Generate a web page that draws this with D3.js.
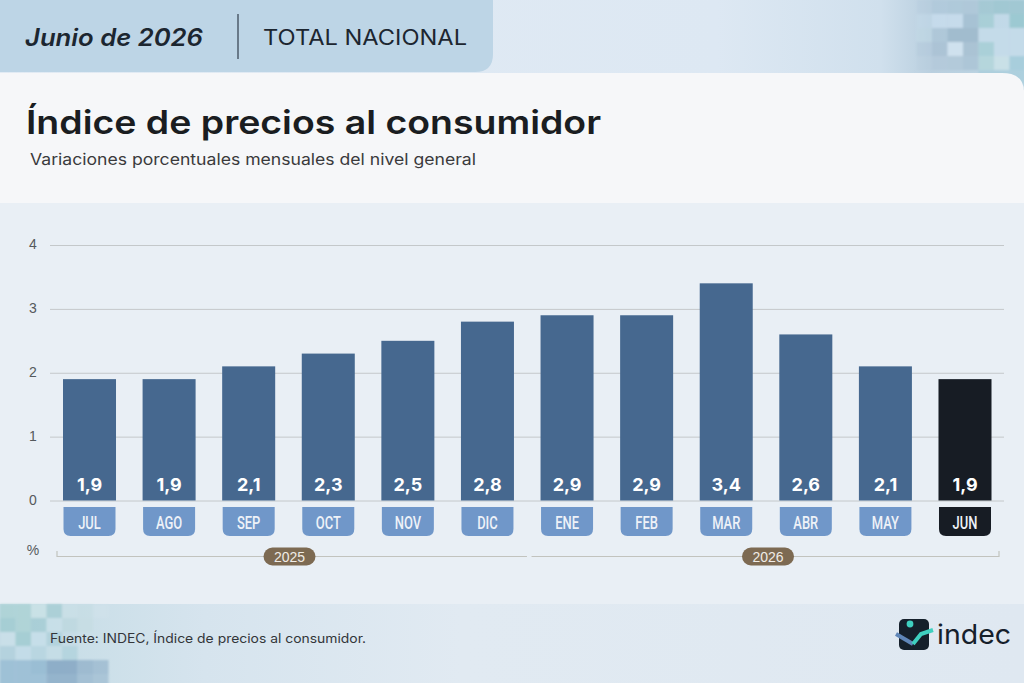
<!DOCTYPE html>
<html lang="es">
<head>
<meta charset="utf-8">
<title>Índice de precios al consumidor</title>
<script src="https://cdn.jsdelivr.net/npm/d3@7"></script>
<style>
  html, body { margin: 0; padding: 0; background: #e9eff5; }
  svg { display: block; }
  text { font-family: "Inter", "Noto Sans", sans-serif; }
</style>
</head>
<body>
<svg id="chart" width="1024" height="683"></svg>
<script>
// Monthly CPI variation, national total
const months = ["JUL","AGO","SEP","OCT","NOV","DIC","ENE","FEB","MAR","ABR","MAY","JUN"];
const values = [1.9,1.9,2.1,2.3,2.5,2.8,2.9,2.9,3.4,2.6,2.1,1.9];
const yTicks = [0,1,2,3,4];
const years = [
  { label: "2025", first: "JUL", last: "DIC" },
  { label: "2026", first: "ENE", last: "JUN" }
];

const svg = d3.select("#chart");
const defs = svg.append("defs");

function gradient(id, stops, x2, y2) {
  const g = defs.append("linearGradient").attr("id", id)
    .attr("x1", 0).attr("y1", 0).attr("x2", x2).attr("y2", y2);
  stops.forEach(([o, c]) => g.append("stop").attr("offset", o).attr("stop-color", c));
}
gradient("topBand", [[0,"#e2ebf4"],[0.7,"#dde8f3"],[0.86,"#d0e0ed"],[0.91,"#b9cfdf"],[1,"#bcd6e4"]], 1, 0);
gradient("footBand", [[0,"#c2dbe4"],[0.2,"#d6e4ee"],[0.45,"#e1eaf2"],[1,"#dfe8f1"]], 1, 0);
defs.append("filter").attr("id", "soft").append("feGaussianBlur").attr("stdDeviation", 1.1);

// Page background bands
svg.append("rect").attr("width", 1024).attr("height", 683).attr("fill", "#e9eff5");
svg.append("rect").attr("width", 1024).attr("height", 90).attr("fill", "url(#topBand)");
svg.append("rect").attr("y", 604).attr("width", 1024).attr("height", 79).attr("fill", "url(#footBand)");

// Pixel mosaics in the top-right and bottom-left corners: [col, row, colour, opacity]
const cell = 14;
const mosaicTop = [
  [-1,0,"#a9c4d6",.2],[0,0,"#a9c4d6",.45],[1,0,"#a9c4d6",.6],[2,0,"#a9c4d6",.7],[3,0,"#8fc0c8",.5],[4,0,"#8fc0c8",.6],[5,0,"#8fc0c8",.6],
  [-1,1,"#c6dcec",.4],[0,1,"#c6dcec",.9],[1,1,"#c6dcec",.9],[2,1,"#a3bed1",.8],[3,1,"#9cccd0",.6],[4,1,"#c4dbe9",.7],[5,1,"#8fc5cb",.7],
  [-1,2,"#c3dce4",.35],[0,2,"#a9c4d6",.7],[1,2,"#9fb9cc",.9],[2,2,"#9fb9cc",.9],[3,2,"#c5dcea",.9],[4,2,"#c5dcea",.9],[5,2,"#c5dcea",.9],
  [-1,3,"#a9c1d3",.3],[0,3,"#a9c1d3",.8],[1,3,"#cfe1ee",1],[2,3,"#a9c1d3",.9],[3,3,"#a6d0d6",.8],[4,3,"#c5dcea",.9],[5,3,"#c5dcea",.9],
  [-1,4,"#b2c8d8",.2],[0,4,"#b2c8d8",.7],[1,4,"#b2c8d8",.8],[2,4,"#aac3d4",.8],[3,4,"#b5d6dc",.9],[4,4,"#cbe1e8",.9],[5,4,"#a6cddc",.9],
  [3,5,"#a6cddc",.7],[4,5,"#a6cddc",.7],[5,5,"#a6cddc",.7]
];
svg.append("g").attr("filter", "url(#soft)").selectAll("rect").data(mosaicTop).join("rect")
  .attr("x", d => 932 + d[0] * 15.5).attr("y", d => d[1] * cell)
  .attr("width", 15.5).attr("height", cell)
  .attr("fill", d => d[2]).attr("opacity", d => d[3]);

const mosaicBottom = [
  [0,0,"#a7d0d2",.7],[1,0,"#a7d0d2",.7],[2,0,"#cbe2e6",.7],[3,0,"#9fcbd0",.7],[4,0,"#c9dfe6",.6],[5,0,"#c4dbe0",.4],[6,0,"#d4e4ea",.3],
  [0,1,"#9fcbd0",.8],[1,1,"#a7d0d2",.7],[2,1,"#9ec9d0",.7],[3,1,"#c7dfe8",.7],[4,1,"#b9d6dc",.6],[5,1,"#c4dbe0",.5],
  [0,2,"#cbe0ea",.8],[1,2,"#9fcbd0",.8],[2,2,"#c7deea",.8],[3,2,"#aacfd8",.7],[4,2,"#c4dbe6",.6],
  [0,3,"#b0d0dc",.8],[1,3,"#c3dce8",.8],[2,3,"#b5d4e0",.8],[3,3,"#c4dde6",.7],[4,3,"#a9cfd8",.6],
  [0,4,"#8fb5d0",.7],[1,4,"#8fb5d0",.7],[2,4,"#8fb5d0",.8],[3,4,"#7fa3c0",.8],[4,4,"#7fa3c0",.8],[5,4,"#8aabc6",.7],[6,4,"#8aabc6",.6],
  [0,5,"#8fb5d0",.7],[1,5,"#8fb5d0",.7],[2,5,"#8fb5d0",.7],[3,5,"#7fa3c0",.7],[4,5,"#7fa3c0",.7],[5,5,"#8aabc6",.6],[6,5,"#8aabc6",.5]
];
svg.append("g").attr("filter", "url(#soft)").selectAll("rect").data(mosaicBottom).join("rect")
  .attr("x", d => d[0] * 15.5).attr("y", d => 604 + d[1] * 14)
  .attr("width", 15.5).attr("height", 14)
  .attr("fill", d => d[2]).attr("opacity", d => d[3]);

// Heading panel, then the tab that sits over its top edge
svg.append("path")
  .attr("d", "M0,73H1002Q1024,73 1024,92V203H0Z")
  .attr("fill", "#f6f7f9");
svg.append("path")
  .attr("d", "M0,0H493V54Q493,72 475,72H0Z")
  .attr("fill", "#bdd5e6");

svg.append("text").attr("x", 25).attr("y", 46)
  .attr("font-size", 24).attr("font-weight", 600).attr("font-style", "italic")
  .attr("fill", "#1c2630").attr("textLength", 178).attr("lengthAdjust", "spacingAndGlyphs")
  .text("Junio de 2026");
svg.append("line").attr("x1", 238).attr("x2", 238).attr("y1", 14).attr("y2", 59)
  .attr("stroke", "#3c4a58").attr("stroke-width", 1.3);
svg.append("text").attr("x", 263).attr("y", 45)
  .attr("font-size", 21).attr("font-weight", 400).attr("fill", "#1c2630")
  .attr("textLength", 204).attr("lengthAdjust", "spacingAndGlyphs")
  .text("TOTAL NACIONAL");

svg.append("text").attr("x", 26).attr("y", 134)
  .attr("font-size", 33).attr("font-weight", 600).attr("fill", "#1a1d21")
  .attr("textLength", 575).attr("lengthAdjust", "spacingAndGlyphs")
  .text("Índice de precios al consumidor");
svg.append("text").attr("x", 30).attr("y", 165)
  .attr("font-size", 15.5).attr("fill", "#3a3a3c")
  .attr("textLength", 446).attr("lengthAdjust", "spacingAndGlyphs")
  .text("Variaciones porcentuales mensuales del nivel general");

// Scales
const x = d3.scaleBand().domain(months).range([63, 991.5]).paddingInner(0.334).paddingOuter(0);
const y = d3.scaleLinear().domain([0, 4]).range([500.5, 245]);
const fmt = v => d3.format(".1f")(v).replace(".", ",");

// Value axis with full-width gridlines
const yAxis = d3.axisLeft(y).tickValues(yTicks).tickSize(-954).tickPadding(10).tickFormat(d3.format("d"));
const gy = svg.append("g").attr("transform", "translate(50,0)").call(yAxis);
gy.select(".domain").remove();
gy.selectAll(".tick line").attr("stroke", "#c4c8ca").attr("stroke-width", 1);
gy.selectAll(".tick text")
  .attr("x", -17).attr("dy", "0.26em")
  .attr("text-anchor", "middle")
  .style("font-family", "'Liberation Sans', sans-serif")
  .style("font-size", "14px").attr("fill", "#55595c");

svg.append("text").attr("x", 33).attr("y", 555).attr("text-anchor", "middle")
  .style("font-family", "'Liberation Sans', sans-serif")
  .attr("font-size", 14).attr("fill", "#55595c").text("%");

// Bars
const last = months[months.length - 1];
const rows = months.map((m, i) => ({ month: m, value: values[i] }));
svg.append("g").selectAll("rect").data(rows).join("rect")
  .attr("x", d => x(d.month)).attr("width", x.bandwidth())
  .attr("y", d => y(d.value)).attr("height", d => y(0) - y(d.value))
  .attr("fill", d => d.month === last ? "#171c24" : "#46688f");

// Value labels inside the bars
svg.append("g").selectAll("text").data(rows).join("text")
  .attr("x", d => x(d.month) + x.bandwidth() / 2).attr("y", 491)
  .attr("text-anchor", "middle").attr("font-size", 18).attr("font-weight", 700)
  .attr("fill", "#ffffff").text(d => fmt(d.value));

// Month chips below the baseline, square on top and rounded at the bottom
const chipTop = 507, chipH = 29, chipR = 7;
svg.append("g").selectAll("path").data(rows).join("path")
  .attr("d", d => {
    const l = x(d.month) + 0.5, r = l + x.bandwidth() - 1;
    return `M${l},${chipTop}H${r}V${chipTop + chipH - chipR}Q${r},${chipTop + chipH} ${r - chipR},${chipTop + chipH}` +
           `H${l + chipR}Q${l},${chipTop + chipH} ${l},${chipTop + chipH - chipR}Z`;
  })
  .attr("fill", d => d.month === last ? "#171c24" : "#7097c9");
svg.append("g").selectAll("text").data(rows).join("text")
  .attr("transform", d => `translate(${x(d.month) + x.bandwidth() / 2},528.5) scale(0.74,1)`)
  .attr("text-anchor", "middle")
  .style("font-family", "'Roboto', sans-serif")
  .attr("font-size", 17.5).attr("font-weight", 500)
  .attr("fill", "#eef2f8").text(d => d.month);

// Year brackets and pills
const brackets = svg.append("g").selectAll("g").data(years).join("g");
brackets.append("path")
  .attr("d", (d, i) => {
    const a = i === 0 ? 57 : x(d.first) - 9;
    const b = i === 0 ? x(d.last) + x.bandwidth() + 13 : 999;
    return i === 0 ? `M${a},551V556.5H${b}` : `M${a},556.5H${b}V551`;
  })
  .attr("fill", "none").attr("stroke", "#c2c3be").attr("stroke-width", 1.2);
const pillCx = [289.5, 768];
brackets.append("rect")
  .attr("x", (d, i) => pillCx[i] - 26).attr("y", 547.5)
  .attr("width", 52).attr("height", 18).attr("rx", 9)
  .attr("fill", "#7d6a52");
brackets.append("text")
  .attr("x", (d, i) => pillCx[i]).attr("y", 561.5).attr("text-anchor", "middle")
  .style("font-family", "'Liberation Sans', sans-serif")
  .attr("font-size", 14).attr("fill", "#f0ece6").text(d => d.label);

// Source note
svg.append("text").attr("x", 50).attr("y", 643)
  .attr("font-size", 12.5).attr("fill", "#33363a")
  .attr("textLength", 316).attr("lengthAdjust", "spacingAndGlyphs")
  .text("Fuente: INDEC, Índice de precios al consumidor.");

// Logo mark and wordmark
const logo = svg.append("g");
logo.append("rect").attr("x", 899).attr("y", 619).attr("width", 30).attr("height", 31).attr("rx", 5).attr("fill", "#15202b");
logo.append("path").attr("d", "M896,634L913,644").attr("stroke", "#5f86b8").attr("stroke-width", 4).attr("fill", "none");
logo.append("path").attr("d", "M913,644L921,634L933,630").attr("stroke", "#3fd0c0").attr("stroke-width", 4).attr("fill", "none");
logo.append("circle").attr("cx", 910).attr("cy", 624).attr("r", 3.4).attr("fill", "#3fd0c0");
logo.append("text").attr("x", 937).attr("y", 644)
  .attr("font-size", 27).attr("font-weight", 400).attr("fill", "#15202b")
  .attr("textLength", 74).attr("lengthAdjust", "spacingAndGlyphs")
  .text("indec");
</script>
</body>
</html>
